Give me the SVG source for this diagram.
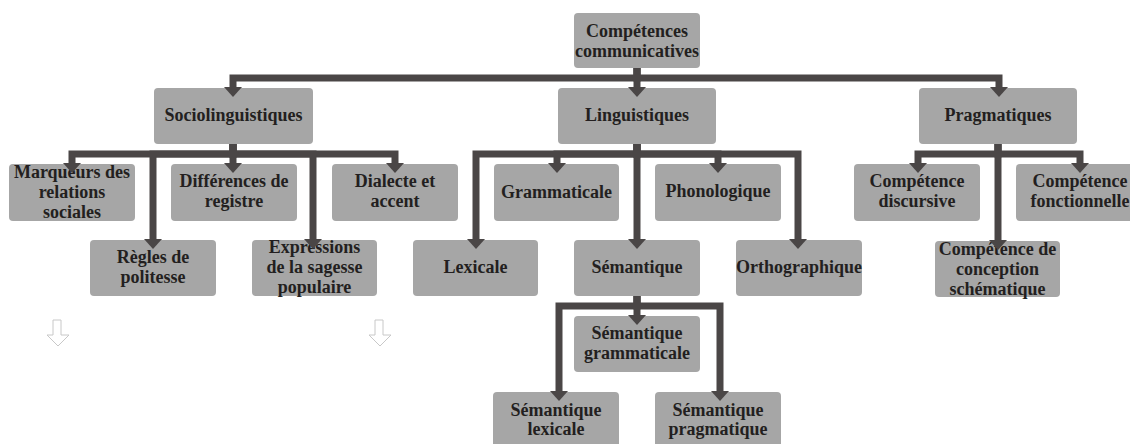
<svg xmlns="http://www.w3.org/2000/svg" width="1130" height="444" viewBox="0 0 1130 444">
<style>
.box{fill:#a6a6a6;}
.t{font-family:"Liberation Serif","Times New Roman",serif;font-weight:bold;font-size:18px;fill:#231f20;text-anchor:middle;}
.c{fill:none;stroke:#4a4646;stroke-width:7;stroke-linejoin:miter;marker-end:url(#ah);}
.h{fill:#fff;stroke:#c8c8c8;stroke-width:1;}
</style>
<defs>
<marker id="ah" markerUnits="userSpaceOnUse" viewBox="0 0 10 18" markerWidth="10" markerHeight="18" refX="0" refY="9" orient="auto">
<path d="M0,0 L10,9 L0,18 z" fill="#4a4646"/>
</marker>
</defs>
<rect width="1130" height="444" fill="#fff"/>
<g id="n-competences"><rect class="box" x="574" y="13" width="126" height="55" rx="4"/><text class="t" x="637" y="37">Compétences</text><text class="t" x="637" y="57">communicatives</text></g>
<g id="n-socio"><rect class="box" x="154" y="88" width="159" height="56" rx="4"/><text class="t" x="233.5" y="121">Sociolinguistiques</text></g>
<g id="n-ling"><rect class="box" x="558" y="88" width="158" height="56" rx="4"/><text class="t" x="637" y="121">Linguistiques</text></g>
<g id="n-prag"><rect class="box" x="919" y="88" width="158" height="56" rx="4"/><text class="t" x="998" y="121">Pragmatiques</text></g>
<g id="n-marqueurs"><rect class="box" x="9" y="164" width="126" height="57" rx="4"/><text class="t" x="72" y="178">Marqueurs des</text><text class="t" x="72" y="198">relations</text><text class="t" x="72" y="218">sociales</text></g>
<g id="n-differences"><rect class="box" x="171" y="164" width="126" height="57" rx="4"/><text class="t" x="234" y="187">Différences de</text><text class="t" x="234" y="207">registre</text></g>
<g id="n-dialecte"><rect class="box" x="332" y="164" width="126" height="57" rx="4"/><text class="t" x="395" y="187">Dialecte et</text><text class="t" x="395" y="207">accent</text></g>
<g id="n-regles"><rect class="box" x="90" y="240" width="126" height="56" rx="4"/><text class="t" x="153" y="263">Règles de</text><text class="t" x="153" y="283">politesse</text></g>
<g id="n-expressions"><rect class="box" x="252" y="240" width="125" height="56" rx="4"/><text class="t" x="314.5" y="253">Expressions</text><text class="t" x="314.5" y="273">de la sagesse</text><text class="t" x="314.5" y="293">populaire</text></g>
<g id="n-grammaticale"><rect class="box" x="494" y="164" width="125" height="57" rx="4"/><text class="t" x="556.5" y="198">Grammaticale</text></g>
<g id="n-phonologique"><rect class="box" x="655" y="164" width="126" height="57" rx="4"/><text class="t" x="718" y="197">Phonologique</text></g>
<g id="n-lexicale"><rect class="box" x="413" y="240" width="125" height="56" rx="4"/><text class="t" x="475.5" y="273">Lexicale</text></g>
<g id="n-semantique"><rect class="box" x="574" y="240" width="126" height="56" rx="4"/><text class="t" x="637" y="273">Sémantique</text></g>
<g id="n-orthographique"><rect class="box" x="736" y="240" width="126" height="56" rx="4"/><text class="t" x="799" y="273">Orthographique</text></g>
<g id="n-sem-gram"><rect class="box" x="574" y="316" width="126" height="56" rx="4"/><text class="t" x="637" y="339">Sémantique</text><text class="t" x="637" y="359">grammaticale</text></g>
<g id="n-sem-lex"><rect class="box" x="493" y="392" width="126" height="56" rx="4"/><text class="t" x="556" y="416">Sémantique</text><text class="t" x="556" y="435">lexicale</text></g>
<g id="n-sem-prag"><rect class="box" x="655" y="392" width="126" height="56" rx="4"/><text class="t" x="718" y="416">Sémantique</text><text class="t" x="718" y="435">pragmatique</text></g>
<g id="n-discursive"><rect class="box" x="854" y="164" width="126" height="57" rx="4"/><text class="t" x="917" y="187">Compétence</text><text class="t" x="917" y="207">discursive</text></g>
<g id="n-fonctionnelle"><rect class="box" x="1016" y="164" width="126" height="57" rx="4"/><text class="t" x="1080" y="187">Compétence</text><text class="t" x="1080" y="207">fonctionnelle</text></g>
<g id="n-conception"><rect class="box" x="935" y="241" width="125" height="56" rx="4"/><text class="t" x="997.5" y="255">Compétence de</text><text class="t" x="997.5" y="275">conception</text><text class="t" x="997.5" y="295">schématique</text></g>
<g id="connectors">
<path class="c" d="M637,68 V78 H233 V87"/>
<path class="c" d="M637,68 V87"/>
<path class="c" d="M637,68 V78 H999 V87"/>
<path class="c" d="M233,144 V154 H72 V163"/>
<path class="c" d="M233,144 V163"/>
<path class="c" d="M233,144 V154 H395 V163"/>
<path class="c" d="M233,144 V154 H153 V239"/>
<path class="c" d="M233,144 V154 H313 V239"/>
<path class="c" d="M637,144 V154 H476 V239"/>
<path class="c" d="M637,144 V154 H557 V163"/>
<path class="c" d="M637,144 V239"/>
<path class="c" d="M637,144 V154 H718 V163"/>
<path class="c" d="M637,144 V154 H798 V239"/>
<path class="c" d="M637,296 V306 H559 V391"/>
<path class="c" d="M637,296 V315"/>
<path class="c" d="M637,296 V306 H720 V391"/>
<path class="c" d="M998,144 V154 H918 V163"/>
<path class="c" d="M998,144 V154 H1080 V163"/>
<path class="c" d="M998,144 V240"/>
</g>
<path class="h" d="M53,320 H61 V335 H69 L58,346 L47,335 H53 Z"/>
<path class="h" d="M375,320 H383 V335 H391 L380,346 L369,335 H375 Z"/>
</svg>
